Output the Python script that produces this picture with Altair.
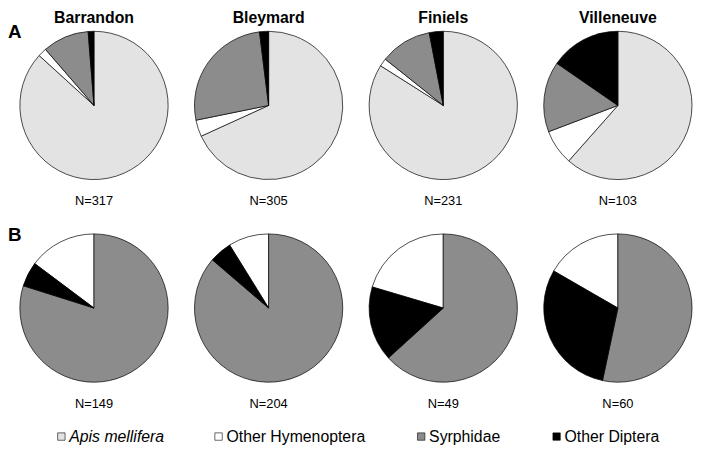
import math
import altair as alt
import pandas as pd

# ---------------- data ----------------
sites = ["Barrandon", "Bleymard", "Finiels", "Villeneuve"]
categories = ["Apis mellifera", "Other Hymenoptera", "Syrphidae", "Other Diptera"]
panels = ["A", "B"]

# Panel A: visitor counts per site
a_apis = [275, 208, 194, 64]
a_other_hym = [6, 11, 4, 8]
a_syrphidae = [32, 80, 26, 16]
a_other_dip = [4, 6, 7, 16]
a_n = [317, 305, 231, 103]

# Panel B: visitor counts per site
b_other_hym = [22, 18, 10, 10]
b_syrphidae = [119, 176, 31, 32]
b_other_dip = [8, 10, 8, 18]
b_n = [149, 204, 49, 60]

# clockwise order of slices from 12 o'clock
a_order = ["Apis mellifera", "Other Hymenoptera", "Syrphidae", "Other Diptera"]
b_order = ["Syrphidae", "Other Diptera", "Other Hymenoptera"]

# ---------------- tables ----------------
rows = []
for i, s in enumerate(sites):
    for c, v in zip(categories, [a_apis[i], a_other_hym[i], a_syrphidae[i], a_other_dip[i]]):
        rows.append(dict(panel="A", site=s, category=c, count=v, order=a_order.index(c)))
    for c, v in zip(["Other Hymenoptera", "Syrphidae", "Other Diptera"],
                    [b_other_hym[i], b_syrphidae[i], b_other_dip[i]]):
        rows.append(dict(panel="B", site=s, category=c, count=v, order=b_order.index(c)))
slices = pd.DataFrame(rows)

nlab = pd.DataFrame(
    [dict(panel="A", site=s, label=f"N={n}") for s, n in zip(sites, a_n)]
    + [dict(panel="B", site=s, label=f"N={n}") for s, n in zip(sites, b_n)]
)
titles = pd.DataFrame(dict(panel=["A"] * 4, site=sites))
letters = pd.DataFrame(dict(panel=panels, letter=panels))

# ---------------- styling / layout ----------------
FONT = "Liberation Sans"
W, H = 686, 436
fills = ["#e3e3e3", "#ffffff", "#8c8c8c", "#000000"]
xscale = alt.Scale(type="point", domain=sites, range=[82, 612], padding=0)
yscale = alt.Scale(type="point", domain=panels, range=[94, 299], padding=0)
R = 75
legend_sym_x = [49, 208, 413, 550]
legend_y = 429

X = alt.X("site:N", scale=xscale, axis=None)
Y = alt.Y("panel:N", scale=yscale, axis=None)

pies = (
    alt.Chart(slices)
    .transform_joinaggregate(total="sum(count)", groupby=["panel", "site"])
    .transform_window(cum="sum(count)", groupby=["panel", "site"],
                      sort=[alt.SortField("order")], frame=[None, 0])
    .transform_calculate(start="(datum.cum - datum.count) / datum.total",
                         end="datum.cum / datum.total")
    .mark_arc(radius=R, stroke="#000000", strokeWidth=0.7)
    .encode(
        x=X, y=Y,
        theta=alt.Theta("start:Q", stack=None,
                        scale=alt.Scale(domain=[0, 1], range=[0, 2 * math.pi])),
        theta2="end:Q",
        color=alt.Color("category:N", scale=alt.Scale(domain=categories, range=fills),
                        legend=None),
    )
)

ntext = alt.Chart(nlab).mark_text(font=FONT, fontSize=13, dy=97, baseline="middle").encode(
    x=X, y=Y, text="label:N")

ttext = alt.Chart(titles).mark_text(font=FONT, fontSize=16, fontWeight="bold", dy=-88,
                                     baseline="middle").encode(x=X, y=Y, text="site:N")

ltext = alt.Chart(letters).mark_text(font=FONT, fontSize=19, fontWeight="bold", dy=-74,
                                      align="left", baseline="middle").encode(
    x=alt.value(-5), y=Y, text="letter:N")

leg = pd.DataFrame(dict(category=categories, sx=legend_sym_x,
                        tx=[v + 8 for v in legend_sym_x]))

leg_sym = alt.Chart(leg).mark_square(size=56, stroke="#000000", strokeWidth=0.6,
                                     opacity=1).encode(
    x=alt.X("sx:Q", scale=None), y=alt.value(legend_y),
    color=alt.Color("category:N", scale=alt.Scale(domain=categories, range=fills),
                    legend=None))

leg_txt_it = alt.Chart(leg).transform_filter(alt.datum.category == "Apis mellifera").mark_text(
    font=FONT, fontSize=16, fontStyle="italic", align="left", baseline="middle").encode(
    x=alt.X("tx:Q", scale=None), y=alt.value(legend_y), text="category:N")

leg_txt = alt.Chart(leg).transform_filter(alt.datum.category != "Apis mellifera").mark_text(
    font=FONT, fontSize=16, align="left", baseline="middle").encode(
    x=alt.X("tx:Q", scale=None), y=alt.value(legend_y), text="category:N")

chart = (
    alt.layer(pies, ntext, ttext, ltext, leg_sym, leg_txt_it, leg_txt)
    .properties(width=W, height=H, padding=0)
    .configure_view(stroke=None)
)

chart.save("out.html", embed_options={"renderer": "svg", "actions": False})
